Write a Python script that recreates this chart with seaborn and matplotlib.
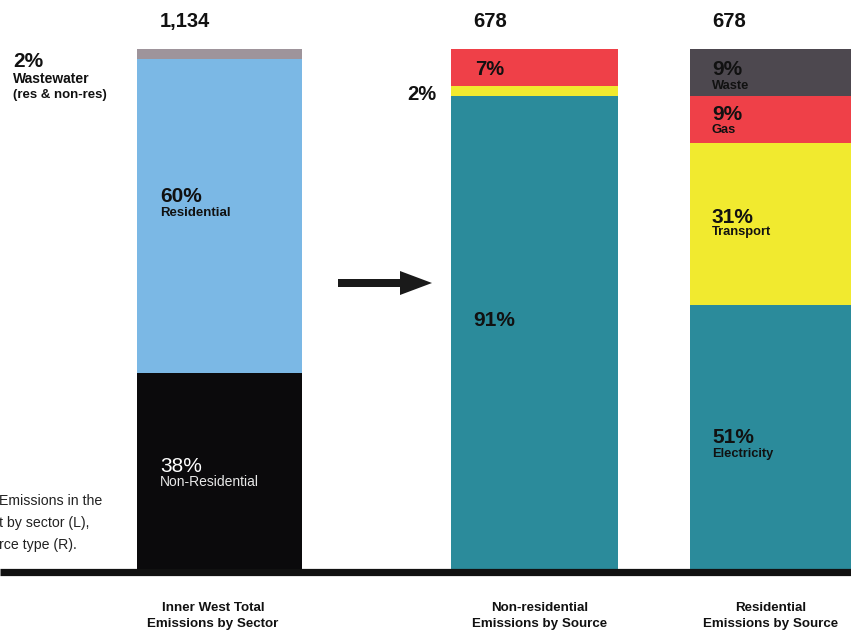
import numpy as np
import pandas as pd
import matplotlib
matplotlib.use("Agg")
import matplotlib.pyplot as plt
import seaborn as sns
from matplotlib.patches import FancyArrow

# ---------------- data ----------------
bar_titles = ["Inner West Total\nEmissions by Sector",
              "Non-residential\nEmissions by Source",
              "Residential\nEmissions by Source"]
bar_totals = ["1,134", "678", "678"]

sector_names = ["Non-Residential", "Residential", "Wastewater"]
sector_values = [38, 60, 2]

nonres_names = ["Electricity", "Transport", "Gas"]
nonres_values = [91, 2, 7]

res_names = ["Electricity", "Transport", "Gas", "Waste"]
res_values = [51, 31, 9, 9]

# ---------------- style ----------------
sns.set_theme(style="white")
plt.rcParams["font.family"] = ["Liberation Sans", "DejaVu Sans"]

W, H = 851, 631
fig = plt.figure(figsize=(W / 100, H / 100), dpi=100)
ax = fig.add_axes([0, 0, 1, 1])

BASE_PX, TOP_PX = 572, 49


def py(p):
    """pixel row -> percent value"""
    return (BASE_PX - p) / (BASE_PX - TOP_PX) * 100


colors = {
    "Non-Residential": "#0b0a0c",
    "Residential": "#7bb8e5",
    "Wastewater": "#9e949b",
    "Electricity": "#2b8b9b",
    "Transport": "#f1ea2f",
    "Gas": "#ef4048",
    "Waste": "#4d484f",
}

bars = [
    (219.5, 165, sector_names, sector_values),
    (534.5, 167, nonres_names, nonres_values),
    (773.5, 167, res_names, res_values),
]

for center, width, names, vals in bars:
    cum = np.cumsum(vals)
    # draw from top segment down so lower segments overlay upper ones
    for name, top in reversed(list(zip(names, cum))):
        df = pd.DataFrame({"x": [center], "y": [top]})
        sns.barplot(data=df, x="x", y="y", native_scale=True, width=width,
                    color=colors[name], saturation=1, errorbar=None,
                    linewidth=0, ax=ax)

ax.set_xlim(0, W)
ax.set_ylim(py(H), py(0))
ax.set_axis_off()

# baseline
ax.plot([0, W], [py(571.5), py(571.5)], color="#111111", lw=5.2,
        solid_capstyle="butt", zorder=5)

# arrow
ax.add_patch(FancyArrow(338, py(283), 94, 0, width=8 * 100 / 523,
                        head_width=24 * 100 / 523, head_length=32,
                        length_includes_head=True, color="#1a1a1a",
                        lw=0, zorder=5))

k = "#111111"
PCT = 15

# totals
for x, t in zip([160, 473, 712], bar_totals):
    ax.text(x, py(27), t, fontsize=14.5, fontweight="bold", color=k)

# bar 1 labels
ax.text(13, py(67), f"{sector_values[2]}%", fontsize=PCT, fontweight="bold", color=k)
ax.text(13, py(83), "Wastewater", fontsize=10, fontweight="bold", color=k)
ax.text(13, py(98), "(res & non-res)", fontsize=9.5, fontweight="bold", color=k)
ax.text(160, py(202), f"{sector_values[1]}%", fontsize=PCT, fontweight="bold", color=k)
ax.text(160, py(216), sector_names[1], fontsize=9.5, fontweight="bold", color=k)
ax.text(160, py(472), f"{sector_values[0]}%", fontsize=PCT, color="white")
ax.text(160, py(486), sector_names[0], fontsize=10, color="#e8e8e8")

# bar 2 labels
ax.text(475, py(75), f"{nonres_values[2]}%", fontsize=14.5, fontweight="bold", color=k)
ax.text(407, py(100), f"{nonres_values[1]}%", fontsize=14.5, fontweight="bold", color=k)
ax.text(473, py(326), f"{nonres_values[0]}%", fontsize=PCT, fontweight="bold", color=k)

# bar 3 labels
res_lab = [(443, 457), (223, 235), (120, 133), (75, 89)]
for (b1, b2), name, v in zip(res_lab, res_names, res_values):
    ax.text(712, py(b1), f"{v}%", fontsize=PCT, fontweight="bold", color=k)
    ax.text(712, py(b2), name, fontsize=9.3, fontweight="bold", color=k)

# caption on the left (cut off)
for txt, b in [("Emissions in the", 505), ("t by sector (L),", 527), ("rce type (R).", 549)]:
    ax.text(-1, py(b), txt, fontsize=10.2, color="#222222")

# bar titles
for cx, t in zip([213, 540, 771], bar_titles):
    l1, l2 = t.split("\n")
    ax.text(cx, py(611), l1, fontsize=9.6, fontweight="bold", color=k, ha="center")
    ax.text(cx, py(627), l2, fontsize=9.6, fontweight="bold", color=k, ha="center")

fig.savefig("out.png", dpi=100)
